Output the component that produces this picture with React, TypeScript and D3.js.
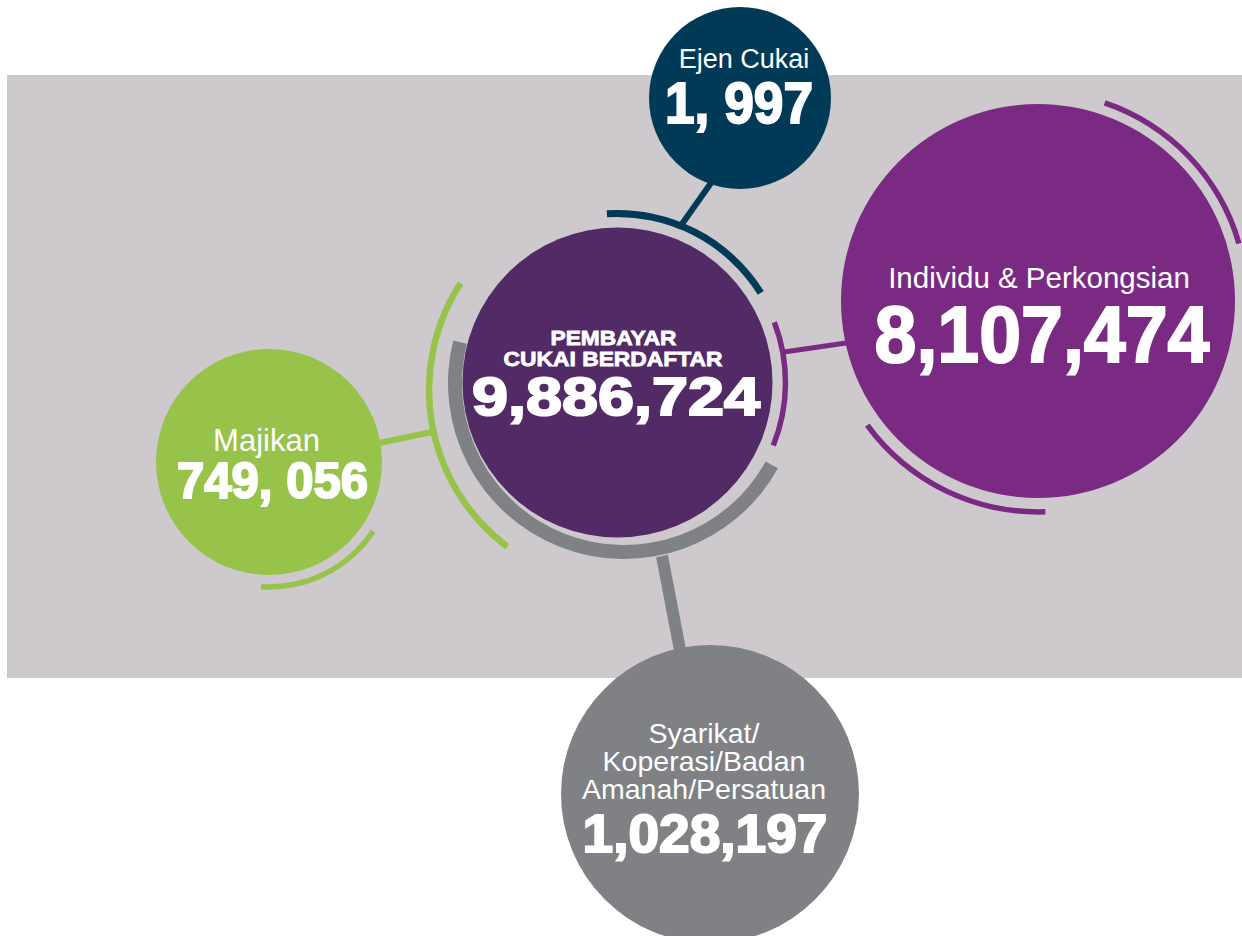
import React from "react";
import * as d3 from "d3";

// ---- data ----
const categories = ["Ejen Cukai", "Individu & Perkongsian", "Majikan", "Syarikat/Koperasi/Badan Amanah/Persatuan"];
const values = [1997, 8107474, 749056, 1028197];
const valueLabels = ["1, 997", "8,107,474", "749, 056", "1,028,197"];
const labelLines = [["Ejen Cukai"], ["Individu & Perkongsian"], ["Majikan"], ["Syarikat/", "Koperasi/Badan", "Amanah/Persatuan"]];
const totalTitle = ["PEMBAYAR", "CUKAI BERDAFTAR"];
const totalValue = 9886724;

// ---- layout (positions / styles) ----
const W = 1242, H = 936;
const FONT = "'Liberation Sans', Arial, Helvetica, sans-serif";
const BG = "#cdc9cd";
const central = { cx: 617.5, cy: 382.5, r: 155, color: "#512a66" };
const nodes = [
  { cx: 740, cy: 98, r: 91, color: "#003a57", labelSize: 27, labelX: 744, labelY: 68, lineGap: 0, valSize: 58, valLen: 148, valX: 739, valY: 123 },
  { cx: 1038, cy: 301, r: 197, color: "#7b2a84", labelSize: 29.5, labelX: 1039, labelY: 288, lineGap: 0, valSize: 79, valLen: 335, valX: 1042, valY: 362 },
  { cx: 269, cy: 462, r: 113, color: "#97c34b", labelSize: 31, labelX: 266.5, labelY: 451, lineGap: 0, valSize: 50, valLen: 191, valX: 272.5, valY: 498 },
  { cx: 710, cy: 794, r: 149, color: "#808184", labelSize: 28.5, labelX: 704, labelY: 743, lineGap: 28, valSize: 53, valLen: 245, valX: 705, valY: 852 },
];
const deg = (a: number) => (a * Math.PI) / 180;
const arcs = [
  { cx: 617.5, cy: 382.5, r: 169, w: 7, a0: -3.6, a1: 58, color: "#003a57" },
  { cx: 617.5, cy: 382.5, r: 168, w: 5.5, a0: 69, a1: 112, color: "#7b2a84" },
  { cx: 624, cy: 383, r: 169, w: 14, a0: 119, a1: 284, color: "#808184" },
  { cx: 625, cy: 390, r: 196, w: 6.5, a0: 217, a1: 303, color: "#97c34b" },
  { cx: 1038, cy: 301, r: 209, w: 5.5, a0: 18.6, a1: 74, color: "#7b2a84" },
  { cx: 1038, cy: 301, r: 211, w: 5.5, a0: 178, a1: 234, color: "#7b2a84" },
  { cx: 269, cy: 462, r: 125, w: 5.5, a0: 123.6, a1: 183.7, color: "#97c34b" },
];
const connectors = [
  { x1: 682, y1: 224, x2: 711, y2: 183, w: 6, color: "#003a57" },
  { x1: 784, y1: 352, x2: 846, y2: 343, w: 5, color: "#7b2a84" },
  { x1: 379, y1: 443, x2: 432, y2: 432, w: 6, color: "#97c34b" },
  { x1: 662, y1: 556, x2: 680, y2: 650, w: 12, color: "#808184" },
];

const arcGen = d3.arc<any>();

export default function App() {
  const fmt = d3.format(",");
  return (
    <svg width={W} height={H} style={{ position: "absolute", left: 0, top: 0 }} fontFamily={FONT}>
      <rect x={7} y={75} width={1235} height={603} fill={BG} />
      {connectors.map((c, i) => (
        <line key={"c" + i} x1={c.x1} y1={c.y1} x2={c.x2} y2={c.y2} stroke={c.color} strokeWidth={c.w} />
      ))}
      {arcs.map((a, i) => (
        <path
          key={"a" + i}
          transform={`translate(${a.cx},${a.cy})`}
          fill={a.color}
          d={arcGen({ innerRadius: a.r - a.w / 2, outerRadius: a.r + a.w / 2, startAngle: deg(a.a0), endAngle: deg(a.a1) }) || ""}
        />
      ))}
      <circle cx={central.cx} cy={central.cy} r={central.r} fill={central.color} />
      {nodes.map((n, i) => (
        <g key={"n" + i} data-category={categories[i]} data-value={values[i]}>
          <circle cx={n.cx} cy={n.cy} r={n.r} fill={n.color} />
          {labelLines[i].map((t, j) => (
            <text key={j} x={n.labelX} y={n.labelY + j * n.lineGap} textAnchor="middle" fill="#fff" fontSize={n.labelSize} fontWeight={400}>
              {t}
            </text>
          ))}
          <text
            x={n.valX}
            y={n.valY}
            textAnchor="middle"
            fill="#fff"
            stroke="#fff"
            strokeWidth={2}
            fontSize={n.valSize}
            fontWeight={700}
            textLength={n.valLen}
            lengthAdjust="spacingAndGlyphs"
          >
            {valueLabels[i]}
          </text>
        </g>
      ))}
      <text x={613.5} y={345} textAnchor="middle" fill="#fff" fontSize={21} fontWeight={700} stroke="#fff" strokeWidth={0.8} textLength={126} lengthAdjust="spacingAndGlyphs">
        {totalTitle[0]}
      </text>
      <text x={613} y={366} textAnchor="middle" fill="#fff" fontSize={21} fontWeight={700} stroke="#fff" strokeWidth={0.8} textLength={219} lengthAdjust="spacingAndGlyphs">
        {totalTitle[1]}
      </text>
      <text
        x={616}
        y={415}
        textAnchor="middle"
        fill="#fff"
        stroke="#fff"
        strokeWidth={2}
        fontSize={53}
        fontWeight={700}
        textLength={288}
        lengthAdjust="spacingAndGlyphs"
      >
        {fmt(totalValue)}
      </text>
    </svg>
  );
}
